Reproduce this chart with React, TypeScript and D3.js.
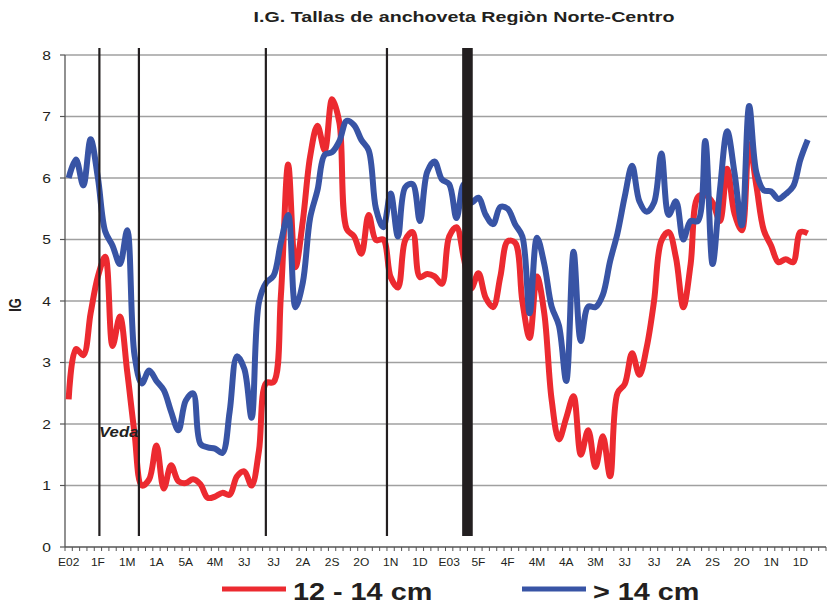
import React from 'react';
import * as d3 from 'd3';

const N_WEEKS = 104;
const weekLabels = ["E02","1F","1M","1A","5A","4M","3J","3J","2A","2S","2O","1N","1D","E03","5F","4F","4M","4A","3M","3J","3J","2A","2S","2O","1N","1D"];
const yTicks = [0, 1, 2, 3, 4, 5, 6, 7, 8];

const small = [
  2.40, 3.22, 3.12, 3.8, 4.4, 4.72, 3.27, 3.75, 2.85, 1.85,
  1.0, 1.1, 1.65, 0.95, 1.33, 1.07, 1.04, 1.1, 1.02, 0.8,
  0.82, 0.88, 0.85, 1.15, 1.23, 1.0, 1.56, 2.67, 2.68, 4.08,
  6.22, 4.55, 5.3, 6.35, 6.85, 6.45, 7.28, 6.9, 5.17, 5.05,
  4.77, 5.4, 4.99, 5.0, 4.39, 4.22, 4.99, 5.12, 4.39, 4.44,
  4.4, 4.28, 5.05, 5.2, 4.7, 4.2, 4.45, 4.05, 3.9, 4.4,
  4.97, 4.95, 4.0, 3.4, 4.4, 3.8, 2.4, 1.75, 2.1, 2.45,
  1.5, 1.9, 1.3, 1.8, 1.15, 2.5, 2.65, 3.15, 2.8, 3.25,
  4.0, 4.98, 5.12, 4.7, 3.9, 4.6, 5.69, 5.72, 5.6, 5.3,
  6.15, 5.42, 5.15, 6.55, 5.86, 5.15, 4.9, 4.63, 4.68, 4.63, 5.12, 5.1
];

const large = [
  6.0, 6.3, 5.88, 6.63, 6.0, 5.13, 4.9, 4.6, 5.15, 3.12,
  2.66, 2.87, 2.7, 2.55, 2.2, 1.9, 2.38, 2.5, 1.68, 1.62,
  1.6, 1.53, 2.2, 3.1, 2.9, 2.1, 3.98, 4.3, 4.41, 4.95,
  5.4, 3.9, 4.3, 5.35, 5.8, 6.38, 6.42, 6.6, 6.93, 6.86,
  6.62, 6.45, 5.5, 5.2, 5.75, 5.05, 5.85, 5.9, 5.3, 6.1,
  6.27, 5.98, 5.9, 5.35, 5.9, 5.6, 5.68, 5.4, 5.25, 5.53,
  5.5, 5.25, 5.05, 3.8, 5.03, 4.6, 3.91, 3.6, 2.7, 4.8,
  3.35, 3.91, 3.9, 4.1, 4.65, 5.1, 5.7, 6.2, 5.62, 5.45,
  5.6, 6.4, 5.4, 5.62, 5.0, 5.3, 5.3, 6.6, 4.6, 5.8,
  6.76, 6.08, 5.23, 7.17, 6.08, 5.8, 5.78, 5.66, 5.74, 5.86, 6.3, 6.62
];

const markerLines = [4.7, 10.1, 27.45, 44.0];
const markerBar = [55.0];

const RED = '#EC2A30';
const BLUE = '#3854A5';
const FONT = "'Liberation Sans', Arial, Helvetica, sans-serif";
const SX = 1.2;

function T({ x, y, size, anchor = 'start', weight = 'normal', italic = false, rotate = 0, sx = SX, children }: any) {
  return (
    <g transform={`translate(${x},${y}) scale(${sx},1) rotate(${rotate})`}>
      <text x={0} y={0} fontSize={size} textAnchor={anchor} fontWeight={weight}
        fontStyle={italic ? 'italic' : 'normal'} fill="#231f20" fontFamily={FONT}>{children}</text>
    </g>
  );
}

export default function App() {
  const x = d3.scaleLinear().domain([0, N_WEEKS]).range([65, 826]);
  const y = d3.scaleLinear().domain([0, 8]).range([547, 55]);
  const line = d3.line<number>()
    .x((_, i) => x(i + 0.5))
    .y(d => y(d))
    .curve(d3.curveCatmullRom.alpha(0.5));

  const tickIdx = d3.range(0, N_WEEKS + 1);

  return (
    <svg width={827} height={604} style={{ position: 'absolute', left: 0, top: 0, background: '#fff' }}>
      <T x={464} y={22} size={15} sx={1.31} anchor="middle" weight="bold">I.G. Tallas de anchoveta Regiòn Norte-Centro</T>

      {yTicks.filter(v => v > 0).map(v => (
        <line key={'g' + v} x1={65} x2={827} y1={y(v)} y2={y(v)} stroke="#a0a0a0" strokeWidth={1.3} />
      ))}
      <line x1={65} x2={65} y1={y(0)} y2={y(8)} stroke="#555" strokeWidth={1.3} />
      {yTicks.map(v => (
        <g key={'yt' + v}>
          <line x1={60} x2={65} y1={y(v)} y2={y(v)} stroke="#555" strokeWidth={1.2} />
          <T x={51} y={y(v) + 4.5} size={13} anchor="end">{String(v)}</T>
        </g>
      ))}
      <line x1={65} x2={826} y1={y(0)} y2={y(0)} stroke="#555" strokeWidth={1.3} />
      {tickIdx.map(k => (
        <line key={'xt' + k} x1={x(k)} x2={x(k)} y1={y(0)} y2={y(0) + 4} stroke="#555" strokeWidth={1} />
      ))}
      {weekLabels.map((lab, j) => (
        <T key={'xl' + j} x={x(j * 4 + 0.5)} y={566} size={10} anchor="middle">{lab}</T>
      ))}

      <T x={21} y={305} size={13} anchor="middle" weight="bold" rotate={-90}>IG</T>

      <path d={line(small) || ''} fill="none" stroke={RED} strokeWidth={6} strokeLinejoin="round" />
      <path d={line(large) || ''} fill="none" stroke={BLUE} strokeWidth={6} strokeLinejoin="round" />

      {markerLines.map((m, k) => (
        <line key={'ml' + k} x1={x(m)} x2={x(m)} y1={48} y2={536} stroke="#231f20" strokeWidth={2.2} />
      ))}
      {markerBar.map((m, k) => (
        <rect key={'mb' + k} x={x(m) - 5.3} width={10.6} y={48} height={488} fill="#231f20" />
      ))}

      <T x={99} y={437} size={14} weight="bold" italic>Veda</T>

      <line x1={222} x2={286} y1={589} y2={589} stroke={RED} strokeWidth={5} />
      <T x={293} y={600} size={24} weight="bold">12 - 14 cm</T>
      <line x1={522} x2={586} y1={589} y2={589} stroke={BLUE} strokeWidth={5} />
      <T x={593} y={600} size={24} weight="bold">{'> 14 cm'}</T>
    </svg>
  );
}
